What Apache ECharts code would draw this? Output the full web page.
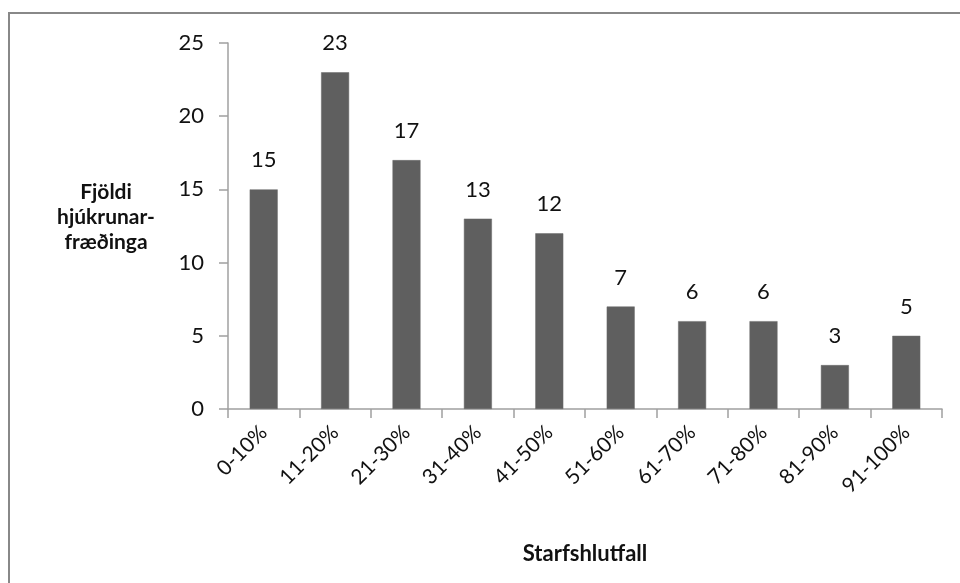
<!DOCTYPE html>
<html><head><meta charset="utf-8">
<script src="https://cdn.jsdelivr.net/npm/echarts@6/dist/echarts.min.js"></script>
<style>html,body{margin:0;padding:0;background:#fff}#c{width:960px;height:583px}</style>
</head><body><div id="c"></div>
<script>
const categories = ['0-10%','11-20%','21-30%','31-40%','41-50%','51-60%','61-70%','71-80%','81-90%','91-100%'];
const values = [15, 23, 17, 13, 12, 7, 6, 6, 3, 5];
const yTicks = [0, 5, 10, 15, 20, 25];
const yTitle = 'Fjöldi\nhjúkrunar-\nfræðinga';
const xTitle = 'Starfshlutfall';

const FONT = 'Lato';
const chart = echarts.init(document.getElementById('c'), null, {renderer: 'canvas'});
chart.setOption({
  animation: false,
  backgroundColor: '#fff',
  grid: {left: 228, right: 18, top: 43, bottom: 174, containLabel: false},
  xAxis: {
    type: 'category', data: categories,
    axisLine: {lineStyle: {color: '#a0a0a0', width: 1.5}},
    axisTick: {show: true, length: 9, alignWithLabel: false, lineStyle: {color: '#a0a0a0', width: 1.5}},
    axisLabel: {rotate: 45, margin: 20, color: '#111', fontFamily: FONT, fontSize: 21, interval: 0},
    name: xTitle, nameLocation: 'middle', nameGap: 134,
    nameTextStyle: {fontFamily: FONT, fontWeight: 'bold', fontSize: 22, color: '#111'}
  },
  yAxis: {
    type: 'value', min: yTicks[0], max: yTicks[yTicks.length-1], interval: 5,
    splitLine: {show: false},
    axisLine: {show: true, lineStyle: {color: '#a0a0a0', width: 1.5}},
    axisTick: {show: true, length: 9, lineStyle: {color: '#a0a0a0', width: 1.5}},
    axisLabel: {margin: 24, color: '#111', fontFamily: FONT, fontSize: 22}
  },
  graphic: [
    {type: 'line', shape: {x1: 8, y1: 13, x2: 960, y2: 13}, style: {stroke: '#888', lineWidth: 2}, silent: true},
    {type: 'line', shape: {x1: 9, y1: 12, x2: 9, y2: 583}, style: {stroke: '#888', lineWidth: 2}, silent: true},
    {type: 'text', x: 106, y: 217, style: {text: yTitle, fontFamily: FONT, fontWeight: 'bold', fontSize: 21, fill: '#111', align: 'center', verticalAlign: 'middle', lineHeight: 25}, silent: true}
  ],
  series: [{
    type: 'bar', data: values, barWidth: 28,
    itemStyle: {color: '#5f5f5f', borderColor: '#6a6a6a', borderWidth: 0.5},
    label: {show: true, position: 'top', distance: 18, color: '#111', fontFamily: FONT, fontSize: 22}
  }]
});
</script></body></html>
